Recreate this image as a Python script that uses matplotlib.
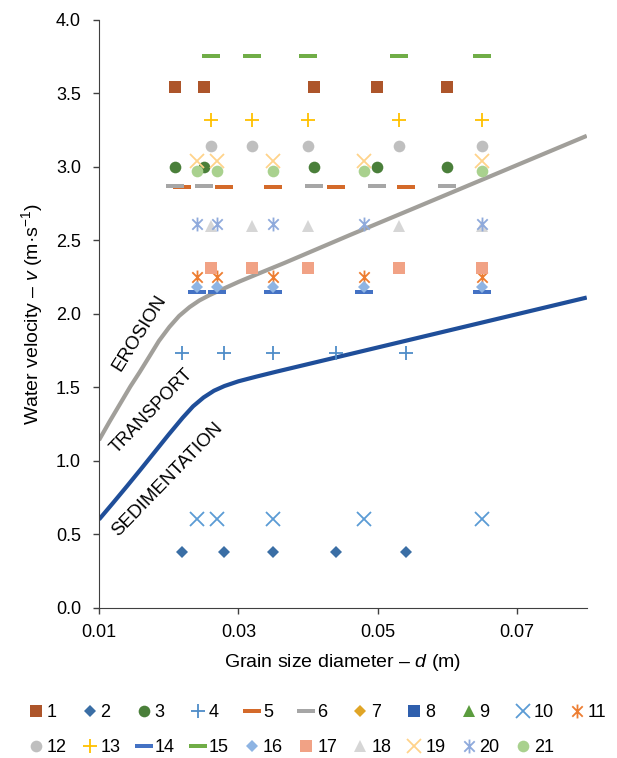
import matplotlib
matplotlib.use("Agg")
import matplotlib.pyplot as plt
from matplotlib.path import Path

plt.rcParams['font.family'] = ['Liberation Sans', 'DejaVu Sans']
plt.rcParams['mathtext.fontset'] = 'custom'
plt.rcParams['mathtext.rm'] = 'Liberation Sans'
plt.rcParams['mathtext.it'] = 'Liberation Sans:italic'

# grain size positions (m) used by the series
x_a = [0.0209, 0.0250, 0.0409, 0.0499, 0.0599]
x_b = [0.0219, 0.0280, 0.0350, 0.0440, 0.0540]
x_c = [0.0240, 0.0270, 0.0350, 0.0480, 0.0650]
x_d = [0.0260, 0.0320, 0.0400, 0.0530, 0.0650]

# series labels, x group and velocity level (m/s)
labels = [str(i) for i in range(1, 22)]
groups = [x_a, x_b, x_a, x_b, x_b, x_a, [], [], [], x_c, x_c,
          x_d, x_d, x_c, x_d, x_c, x_d, x_d, x_c, x_c, x_c]
levels = [3.54, 0.38, 3.00, 1.73, 2.86, 2.87, None, None, None, 0.60, 2.25,
          3.14, 3.32, 2.15, 3.75, 2.18, 2.31, 2.60, 3.04, 2.61, 2.97]

# boundary curves
erosion_x = [0.0100, 0.0115, 0.0130, 0.0145, 0.0158, 0.0172, 0.0186, 0.0201, 0.0215, 0.0230,
             0.0244, 0.0258, 0.0273, 0.0287, 0.0301, 0.0330, 0.0366, 0.0460, 0.0556, 0.0800]
erosion_y = [1.140, 1.265, 1.385, 1.505, 1.600, 1.707, 1.815, 1.910, 1.985, 2.045,
             2.090, 2.125, 2.158, 2.188, 2.218, 2.275, 2.345, 2.535, 2.725, 3.210]
sedim_x = [0.0100, 0.0120, 0.0140, 0.0160, 0.0180, 0.0200, 0.0220, 0.0235, 0.0250, 0.0265,
           0.0280, 0.0300, 0.0325, 0.0354, 0.0460, 0.0800]
sedim_y = [0.600, 0.712, 0.826, 0.942, 1.060, 1.178, 1.292, 1.370, 1.430, 1.476,
           1.508, 1.540, 1.571, 1.605, 1.725, 2.110]

# custom markers (Excel style dash and asterisk)
dash = Path([(-1, -0.26), (1, -0.26), (1, 0.26), (-1, 0.26), (-1, -0.26)],
            [Path.MOVETO, Path.LINETO, Path.LINETO, Path.LINETO, Path.CLOSEPOLY])
aster = Path([(-0.45, -0.45), (0.45, 0.45), (-0.45, 0.45), (0.45, -0.45), (0, -0.6), (0, 0.6)],
             [Path.MOVETO, Path.LINETO, Path.MOVETO, Path.LINETO, Path.MOVETO, Path.LINETO])

styles = [
    ('s', '#AD552A', 8.4), ('D', '#3A6EA5', 5.8), ('o', '#4A7F3A', 8.4), ('+', '#4E8CC8', 10),
    (dash, '#D46A2A', 13), (dash, '#A6A6A6', 13), ('D', '#E0A526', 5.8), ('s', '#2F5FAD', 8.4),
    ('^', '#5B9C3E', 8.4), ('x', '#5B9BD5', 9.5), (aster, '#ED7D31', 10),
    ('o', '#BFBFBF', 8.4), ('+', '#FFC000', 10), (dash, '#4472C4', 13), (dash, '#70AD47', 13),
    ('D', '#8EB4E3', 5.8), ('s', '#F1A285', 8.4), ('^', '#D6D6D6', 8.4), ('x', '#FFD38A', 9.5),
    (aster, '#8FAADC', 10), ('o', '#A9D18E', 8.4),
]

fig = plt.figure(figsize=(6.17, 7.58), dpi=100)
ax = fig.add_axes([0.1605, 0.1983, 0.7905, 0.7757])

ax.plot(erosion_x, erosion_y, color='#A19F9A', lw=3, zorder=1, solid_capstyle='butt')
ax.plot(sedim_x, sedim_y, color='#1F4E99', lw=3, zorder=1, solid_capstyle='butt')

handles = []
for lab, xs, lev, (m, c, ms) in zip(labels, groups, levels, styles):
    ys = [lev] * len(xs)
    line_marker = m in ('+', 'x') or m is aster
    h, = ax.plot(xs, ys, ls='none', marker=m, ms=ms, color=c, label=lab, zorder=3,
                 mew=1.3 if line_marker else 0)
    handles.append(h)

ax.text(0.0158, 1.87, 'EROSION', rotation=58, ha='center', va='center', fontsize=13.5)
ax.text(0.0175, 1.34, 'TRANSPORT', rotation=46, ha='center', va='center', fontsize=13)
ax.text(0.0198, 0.87, 'SEDIMENTATION', rotation=46, ha='center', va='center', fontsize=13.5)

ax.set_xlim(0.01, 0.08)
ax.set_ylim(0, 4)
ax.set_xticks([0.01, 0.03, 0.05, 0.07])
ax.set_xticklabels(['0.01', '0.03', '0.05', '0.07'])
ax.set_yticks([0, 0.5, 1, 1.5, 2, 2.5, 3, 3.5, 4])
ax.set_yticklabels(['0.0', '0.5', '1.0', '1.5', '2.0', '2.5', '3.0', '3.5', '4.0'])
ax.tick_params(labelsize=13, direction='out', length=4, width=1, color='#404040')
ax.tick_params(axis='y', pad=9)
ax.tick_params(axis='x', pad=8)
for s in ('top', 'right'):
    ax.spines[s].set_visible(False)
for s in ('left', 'bottom'):
    ax.spines[s].set_color('#404040')
ax.set_xlabel('Grain size diameter – $\\mathit{d}$ (m)', fontsize=14, labelpad=8)
ax.set_ylabel('Water velocity – $\\mathit{v}$ (m·s$^{-1}$)', fontsize=14, labelpad=8)

# legend row-major: 1..11 on top, 12..21 below
order = []
for i in range(11):
    order.append(i)
    if i + 11 < 21:
        order.append(i + 11)
fig.legend([handles[i] for i in order], [labels[i] for i in order], ncol=11,
           loc='upper left', bbox_to_anchor=(0.046, 0.071), frameon=False,
           fontsize=13, handlelength=0.8, handletextpad=0.2, columnspacing=0.89,
           labelspacing=1.0, borderpad=0, borderaxespad=0)

fig.savefig('out.png', dpi=100)
